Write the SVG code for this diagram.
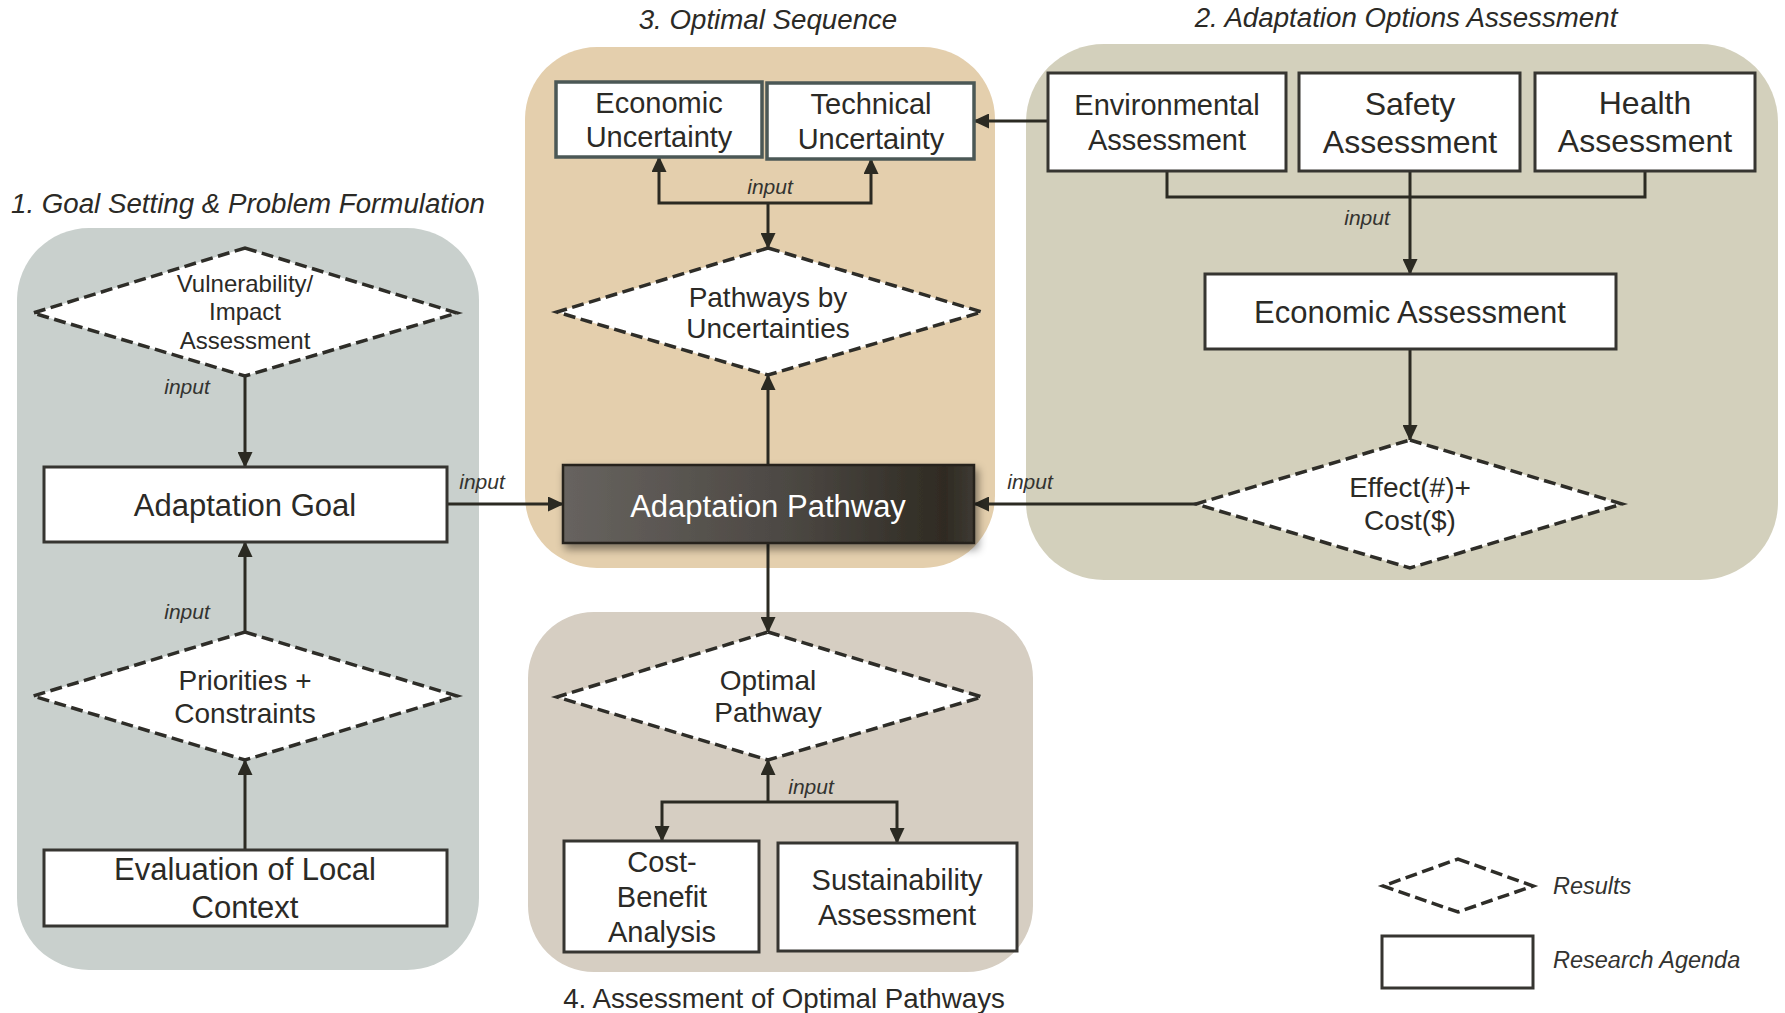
<svg xmlns="http://www.w3.org/2000/svg" width="1785" height="1013" viewBox="0 0 1785 1013">
  <defs>
    <style>
      text { font-family: "Liberation Sans", Arial, sans-serif; fill: #2b2a26; text-anchor: middle; }
      .title { font-size: 27.7px; font-style: italic; }
      .title4 { font-size: 27.7px; }
      .lbl { font-size: 21px; font-style: italic; fill: #333330; }
      .legend { font-size: 23.5px; font-style: italic; text-anchor: start; fill: #333330; }
      .box { fill: #ffffff; stroke: #363531; stroke-width: 3; }
      .ubox { fill: #ffffff; stroke: #4b5856; stroke-width: 3.5; }
      .dia { fill: #ffffff; stroke: #2e2d28; stroke-width: 3.5; stroke-dasharray: 12 5.5; }
      .conn { fill: none; stroke: #2b2a22; stroke-width: 3; }
      .arr { marker-end: url(#head); }
      .t24 { font-size: 24px; }
      .t28 { font-size: 28px; }
      .t29 { font-size: 29px; }
      .t31 { font-size: 31px; }
      .t32 { font-size: 32px; }
    </style>
    <marker id="head" viewBox="0 0 16 15" markerUnits="userSpaceOnUse" markerWidth="16" markerHeight="15" refX="15" refY="7.5" orient="auto">
      <path d="M0,0 L16,7.5 L0,15 z" fill="#2b2a22"/>
    </marker>
    <linearGradient id="darkFill" x1="0" y1="0" x2="1" y2="0">
      <stop offset="0" stop-color="#67635f"/>
      <stop offset="0.55" stop-color="#4c4843"/>
      <stop offset="0.93" stop-color="#2f2b23"/>
      <stop offset="1" stop-color="#3e3a33"/>
    </linearGradient>
    <filter id="shadow" x="-10%" y="-20%" width="125%" height="150%">
      <feDropShadow dx="3" dy="5" stdDeviation="4" flood-color="#000000" flood-opacity="0.45"/>
    </filter>
  </defs>

  <!-- stage panels -->
  <g id="panels">
    <rect x="17" y="228" width="462" height="742" rx="72" fill="#c9d0cd"/>
    <rect x="525" y="47" width="470" height="521" rx="72" fill="#e4cfad"/>
    <rect x="1026" y="44" width="752" height="536" rx="78" fill="#d3d0bc"/>
    <rect x="528" y="612" width="505" height="360" rx="66" fill="#d6cec2"/>
  </g>

  <!-- stage titles -->
  <g id="titles">
    <text class="title" x="248" y="213">1. Goal Setting &amp; Problem Formulation</text>
    <text class="title" x="768" y="29">3. Optimal Sequence</text>
    <text class="title" x="1406" y="27">2. Adaptation Options Assessment</text>
    <text class="title4" x="784" y="1008">4. Assessment of Optimal Pathways</text>
  </g>

  <!-- connectors -->
  <g id="connectors">
    <path class="conn arr" d="M245,376 L245,467"/>
    <path class="conn arr" d="M245,632 L245,542"/>
    <path class="conn arr" d="M245,850 L245,760"/>
    <path class="conn arr" d="M447,504 L563,504"/>
    <path class="conn arr" d="M768,465 L768,375"/>
    <path class="conn arr" d="M768,203 L768,248"/>
    <path class="conn arr" d="M768,203 L659,203 L659,157"/>
    <path class="conn arr" d="M768,203 L871,203 L871,159"/>
    <path class="conn arr" d="M1048,121 L974,121"/>
    <path class="conn" d="M1167,171 L1167,197 L1645,197 L1645,171"/>
    <path class="conn arr" d="M1410,171 L1410,274"/>
    <path class="conn arr" d="M1410,349 L1410,440"/>
    <path class="conn arr" d="M1196,504 L974,504"/>
    <path class="conn arr" d="M768,543 L768,632"/>
    <path class="conn arr" d="M768,802 L768,760"/>
    <path class="conn arr" d="M768,802 L662,802 L662,841"/>
    <path class="conn arr" d="M768,802 L897,802 L897,843"/>
    <text class="lbl" x="187" y="394">input</text>
    <text class="lbl" x="187" y="619">input</text>
    <text class="lbl" x="482" y="489">input</text>
    <text class="lbl" x="770" y="194">input</text>
    <text class="lbl" x="1367" y="225">input</text>
    <text class="lbl" x="1030" y="489">input</text>
    <text class="lbl" x="811" y="794">input</text>
  </g>

  <!-- 1. goal setting -->
  <g id="vulnerability">
    <polygon class="dia" points="245,248 457,313 245,376 33,313"/>
    <text class="t24" x="245" y="292">Vulnerability/</text>
    <text class="t24" x="245" y="320">Impact</text>
    <text class="t24" x="245" y="349">Assessment</text>
  </g>
  <g id="adaptation-goal">
    <rect class="box" x="44" y="467" width="403" height="75"/>
    <text class="t31" x="245" y="516">Adaptation Goal</text>
  </g>
  <g id="priorities">
    <polygon class="dia" points="245,632 457,696 245,760 33,696"/>
    <text class="t28" x="245" y="690">Priorities +</text>
    <text class="t28" x="245" y="723">Constraints</text>
  </g>
  <g id="local-context">
    <rect class="box" x="44" y="850" width="403" height="76"/>
    <text class="t31" x="245" y="880">Evaluation of Local</text>
    <text class="t31" x="245" y="918">Context</text>
  </g>

  <!-- 3. optimal sequence -->
  <g id="economic-uncertainty">
    <rect class="ubox" x="556" y="82" width="206" height="75"/>
    <text class="t29" x="659" y="113">Economic</text>
    <text class="t29" x="659" y="147">Uncertainty</text>
  </g>
  <g id="technical-uncertainty">
    <rect class="ubox" x="767" y="83" width="207" height="76"/>
    <text class="t29" x="871" y="114">Technical</text>
    <text class="t29" x="871" y="149">Uncertainty</text>
  </g>
  <g id="pathways-by-uncertainties">
    <polygon class="dia" points="768,248 982,312 768,375 557,312"/>
    <text class="t28" x="768" y="307">Pathways by</text>
    <text class="t28" x="768" y="338">Uncertainties</text>
  </g>
  <g id="adaptation-pathway">
    <rect x="563" y="465" width="411" height="78" fill="url(#darkFill)" stroke="#26231d" stroke-width="2.5" filter="url(#shadow)"/>
    <text class="t31" x="768" y="517" style="fill:#ffffff">Adaptation Pathway</text>
  </g>

  <!-- 2. adaptation options assessment -->
  <g id="environmental">
    <rect class="box" x="1048" y="73" width="238" height="98"/>
    <text class="t29" x="1167" y="115">Environmental</text>
    <text class="t29" x="1167" y="150">Assessment</text>
  </g>
  <g id="safety">
    <rect class="box" x="1299" y="73" width="221" height="98"/>
    <text class="t32" x="1410" y="115">Safety</text>
    <text class="t32" x="1410" y="153">Assessment</text>
  </g>
  <g id="health">
    <rect class="box" x="1535" y="73" width="220" height="98"/>
    <text class="t32" x="1645" y="114">Health</text>
    <text class="t32" x="1645" y="152">Assessment</text>
  </g>
  <g id="economic-assessment">
    <rect class="box" x="1205" y="274" width="411" height="75"/>
    <text class="t31" x="1410" y="323">Economic Assessment</text>
  </g>
  <g id="effect-cost">
    <polygon class="dia" points="1410,440 1622,504 1410,568 1196,504"/>
    <text class="t28" x="1410" y="497">Effect(#)+</text>
    <text class="t28" x="1410" y="530">Cost($)</text>
  </g>

  <!-- 4. assessment of optimal pathways -->
  <g id="optimal-pathway">
    <polygon class="dia" points="768,632 982,697 768,760 557,697"/>
    <text class="t28" x="768" y="690">Optimal</text>
    <text class="t28" x="768" y="722">Pathway</text>
  </g>
  <g id="cost-benefit">
    <rect class="box" x="564" y="841" width="195" height="111"/>
    <text class="t29" x="662" y="872">Cost-</text>
    <text class="t29" x="662" y="907">Benefit</text>
    <text class="t29" x="662" y="942">Analysis</text>
  </g>
  <g id="sustainability">
    <rect class="box" x="778" y="843" width="239" height="108"/>
    <text class="t29" x="897" y="890">Sustainability</text>
    <text class="t29" x="897" y="925">Assessment</text>
  </g>

  <!-- legend -->
  <g id="legend">
    <polygon class="dia" points="1458,859 1533,886 1458,912 1383,886"/>
    <text class="legend" x="1553" y="894">Results</text>
    <rect class="box" x="1382" y="936" width="151" height="52"/>
    <text class="legend" x="1553" y="968">Research Agenda</text>
  </g>
</svg>
